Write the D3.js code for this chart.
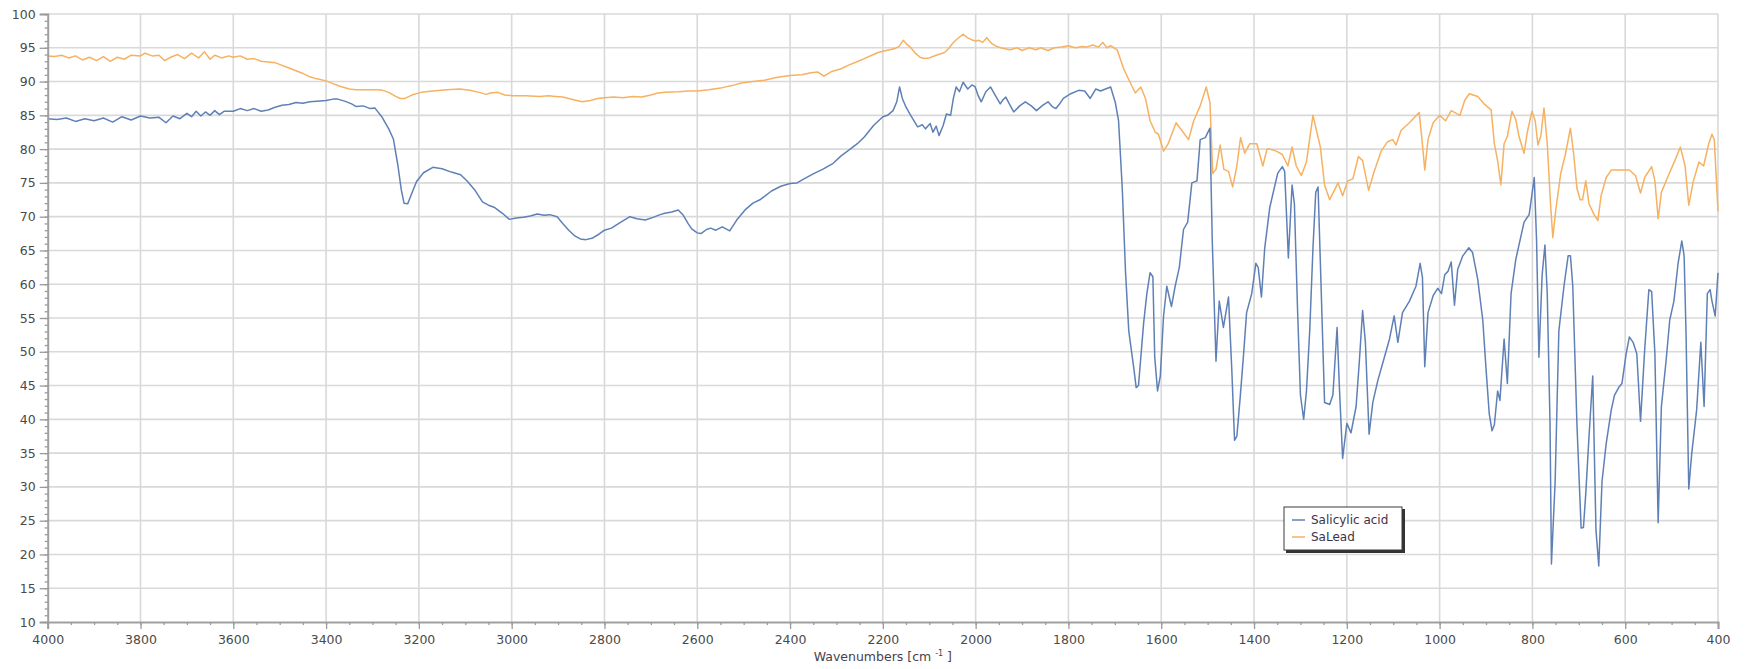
<!DOCTYPE html>
<html>
<head>
<meta charset="utf-8">
<script src="https://cdn.jsdelivr.net/npm/d3@7"></script>
<style>
  html, body { margin: 0; padding: 0; background: #fff; }
  svg { display: block; }
  text { font-family: "DejaVu Sans", Verdana, sans-serif; }
</style>
</head>
<body>
<svg id="chart" width="1747" height="669"></svg>
<script>
// FT-IR transmittance spectra (%T vs wavenumber)
const seriesNames = ["Salicylic acid", "SaLead"];

const acidWavenumbers = [
  4000, 3980, 3960, 3940, 3920, 3900, 3880, 3860, 3840, 3820, 3800, 3780, 3760, 3745, 3730, 3715,
  3700, 3690, 3680, 3670, 3660, 3650, 3640, 3630, 3620, 3600, 3585, 3570, 3555, 3540, 3525, 3510,
  3495, 3480, 3465, 3450, 3435, 3420, 3400, 3385, 3375, 3360, 3345, 3335, 3320, 3305, 3295, 3280,
  3265, 3255, 3245, 3238, 3232, 3224, 3215, 3205, 3190, 3170, 3150, 3130, 3110, 3095, 3080, 3063,
  3050, 3038, 3020, 3005, 2990, 2975, 2960, 2945, 2930, 2918, 2902, 2890, 2877, 2865, 2852, 2840,
  2827, 2812, 2800, 2785, 2769, 2755, 2745, 2730, 2712, 2695, 2680, 2670, 2655, 2641, 2630, 2620,
  2612, 2600, 2592, 2580, 2571, 2560, 2546, 2538, 2530, 2515, 2497, 2480, 2465, 2455, 2440, 2420,
  2400, 2385, 2370, 2348, 2330, 2307, 2290, 2274, 2255, 2240, 2220, 2200, 2190, 2178, 2170, 2164,
  2158, 2150, 2140, 2125, 2115, 2108, 2098, 2092, 2085, 2079, 2070, 2063, 2054, 2048, 2042, 2035,
  2027, 2017, 2008, 2001, 1995, 1988, 1978, 1968, 1958, 1947, 1941, 1935, 1926, 1918, 1905, 1893,
  1880, 1869, 1855, 1844, 1835, 1827, 1818, 1811, 1795, 1778, 1765, 1753, 1741, 1731, 1720, 1709,
  1699, 1692, 1684, 1677, 1670, 1659, 1654, 1649, 1638, 1631, 1624, 1618, 1614, 1608, 1602, 1595,
  1588, 1578, 1570, 1561, 1552, 1543, 1534, 1523, 1516, 1505, 1495, 1490, 1482, 1475, 1466, 1455,
  1448, 1442, 1437, 1430, 1423, 1416, 1405, 1396, 1391, 1384, 1377, 1366, 1349, 1339, 1334, 1326,
  1318, 1313, 1306, 1300, 1293, 1287, 1280, 1273, 1267, 1262, 1255, 1248, 1237, 1230, 1221, 1216,
  1209, 1200, 1191, 1180, 1173, 1166, 1160, 1152, 1144, 1133, 1119, 1108, 1098, 1090, 1080, 1065,
  1051, 1042, 1037, 1032, 1025, 1014, 1004, 996, 989, 982, 975, 968, 961, 950, 937, 929,
  918, 907, 900, 893, 887, 882, 875, 870, 861, 854, 846, 836, 829, 818, 807, 796,
  791, 786, 779, 773, 768, 762, 759, 751, 743, 732, 723, 718, 713, 704, 695, 690,
  685, 678, 670, 663, 657, 650, 641, 630, 623, 614, 607, 598, 591, 583, 575, 567,
  558, 549, 543, 536, 529, 522, 512, 504, 495, 486, 478, 473, 469, 463, 457, 446,
  437, 430, 423, 417, 413, 406, 400
];
const acidTransmittance = [
  84.5, 84.4, 84.6, 84.1, 84.5, 84.2, 84.6, 84.0, 84.8, 84.3, 84.9, 84.6, 84.7, 83.9, 84.9, 84.5,
  85.3, 84.8, 85.6, 84.9, 85.5, 85.0, 85.7, 85.1, 85.6, 85.6, 86.0, 85.7, 86.0, 85.6, 85.8, 86.2,
  86.5, 86.6, 86.9, 86.8, 87.0, 87.1, 87.2, 87.4, 87.4, 87.1, 86.7, 86.3, 86.4, 86.0, 86.1, 84.8,
  83.0, 81.5, 77.5, 74.0, 72.0, 71.9, 73.5, 75.2, 76.5, 77.3, 77.1, 76.6, 76.2, 75.2, 74.0, 72.2,
  71.7, 71.4, 70.5, 69.6, 69.8, 69.9, 70.1, 70.4, 70.2, 70.3, 70.0, 69.0, 68.0, 67.2, 66.7, 66.6,
  66.8, 67.4, 68.0, 68.3, 69.0, 69.6, 70.0, 69.7, 69.5, 69.9, 70.3, 70.5, 70.7, 71.0, 70.2, 69.0,
  68.2, 67.6, 67.5, 68.1, 68.3, 68.0, 68.5, 68.2, 67.9, 69.5, 71.0, 72.0, 72.5, 73.0, 73.8, 74.5,
  74.9, 75.0, 75.6, 76.4, 77.0, 77.9, 79.0, 79.8, 80.8, 81.8, 83.5, 84.8, 85.0, 85.7, 87.0, 89.2,
  87.5, 86.2, 85.0, 83.3, 83.6, 83.0, 83.8, 82.5, 83.4, 82.0, 83.5, 85.2, 85.0, 87.5, 89.2, 88.5,
  89.9, 88.9, 89.5, 89.2, 88.0, 87.0, 88.5, 89.2, 88.0, 86.7, 87.3, 87.7, 86.5, 85.5, 86.4, 87.0,
  86.4, 85.7, 86.5, 87.0, 86.3, 86.0, 86.8, 87.5, 88.2, 88.7, 88.6, 87.5, 88.9, 88.6, 88.9, 89.2,
  86.9, 84.2, 74.2, 61.9, 53.1, 47.5, 44.7, 45.0, 54.2, 58.6, 61.7, 61.1, 49.2, 44.2, 46.4, 55.3,
  59.7, 56.7, 59.7, 62.5, 68.1, 69.2, 75.0, 75.3, 81.4, 81.7, 83.1, 66.4, 48.6, 57.5, 53.6, 58.1,
  47.5, 36.9, 37.5, 43.1, 49.2, 55.8, 58.6, 63.1, 62.5, 58.1, 65.3, 71.4, 76.4, 77.4, 76.7, 63.9,
  74.7, 71.9, 55.8, 43.6, 40.0, 44.2, 53.1, 65.3, 73.6, 74.4, 58.6, 42.5, 42.2, 43.6, 53.6, 44.7,
  34.2, 39.4, 38.0, 41.9, 48.6, 56.1, 51.4, 37.8, 42.5, 45.8, 49.2, 51.9, 55.3, 51.4, 55.8, 57.5,
  59.7, 63.1, 61.0, 47.8, 55.8, 58.3, 59.4, 58.6, 61.4, 61.9, 63.3, 56.9, 62.2, 64.2, 65.4, 64.7,
  60.8, 54.7, 47.5, 40.8, 38.3, 39.2, 44.2, 42.8, 51.9, 45.3, 58.6, 63.6, 65.8, 69.2, 70.3, 75.8,
  66.4, 49.2, 61.4, 65.8, 58.6, 39.2, 18.6, 30.8, 53.1, 59.7, 64.2, 64.2, 59.7, 39.2, 23.9, 24.0,
  29.0, 37.5, 46.4, 23.6, 18.3, 30.8, 36.4, 41.4, 43.6, 44.7, 45.3, 49.7, 52.2, 51.4, 49.7, 39.7,
  50.3, 59.2, 58.9, 49.7, 24.7, 41.9, 48.6, 54.7, 57.5, 63.1, 66.4, 64.2, 53.1, 29.7, 34.7, 41.4,
  51.4, 41.9, 58.6, 59.2, 57.5, 55.3, 61.7
];

const leadWavenumbers = [
  4000, 3985, 3970, 3955, 3940, 3925, 3910, 3895, 3880, 3865, 3850, 3835, 3820, 3800, 3790, 3775,
  3760, 3748, 3735, 3720, 3705, 3690, 3675, 3662, 3650, 3640, 3625, 3610, 3600, 3585, 3570, 3555,
  3540, 3525, 3510, 3495, 3480, 3465, 3450, 3435, 3420, 3400, 3385, 3370, 3350, 3335, 3310, 3290,
  3278, 3265, 3250, 3240, 3230, 3215, 3195, 3170, 3140, 3112, 3090, 3070, 3055, 3046, 3030, 3015,
  2997, 2970, 2940, 2920, 2906, 2890, 2877, 2860, 2848, 2830, 2815, 2800, 2780, 2760, 2740, 2720,
  2700, 2685, 2670, 2640, 2620, 2600, 2575, 2546, 2525, 2505, 2480, 2455, 2430, 2400, 2375, 2355,
  2340, 2327, 2310, 2290, 2275, 2257, 2240, 2224, 2210, 2200, 2185, 2174, 2165, 2156, 2148, 2141,
  2130, 2120, 2110, 2100, 2085, 2067, 2058, 2049, 2040, 2027, 2018, 2009, 2000, 1993, 1985, 1976,
  1965, 1955, 1940, 1926, 1910, 1900, 1885, 1870, 1860, 1844, 1830, 1815, 1800, 1785, 1770, 1761,
  1748, 1735, 1726, 1717, 1709, 1695, 1681, 1670, 1656, 1644, 1634, 1624, 1613, 1606, 1595, 1585,
  1568, 1556, 1541, 1530, 1516, 1503, 1495, 1489, 1482, 1473, 1465, 1455, 1446, 1437, 1429, 1420,
  1409, 1394, 1381, 1372, 1366, 1352, 1339, 1327, 1318, 1309, 1298, 1287, 1273, 1257, 1248, 1237,
  1229, 1219, 1209, 1198, 1187, 1175, 1166, 1153, 1141, 1126, 1112, 1101, 1094, 1083, 1065, 1054,
  1044, 1038, 1032, 1025, 1014, 1000, 987, 975, 964, 956, 946, 936, 918, 904, 889, 882,
  875, 868, 861, 854, 844, 836, 829, 818, 811, 801, 794, 788, 782, 775, 768, 761,
  756, 750, 739, 729, 718, 711, 704, 697, 692, 685, 678, 667, 659, 652, 641, 630,
  612, 591, 578, 567, 558, 543, 536, 529, 522, 507, 493, 481, 471, 463, 453, 441,
  431, 420, 413, 408, 400
];
const leadTransmittance = [
  93.8, 93.7, 93.9, 93.5, 93.8, 93.2, 93.6, 93.1, 93.7, 93.0, 93.6, 93.3, 93.9, 93.8, 94.2, 93.8,
  93.9, 93.1, 93.6, 94.0, 93.4, 94.2, 93.5, 94.4, 93.3, 93.9, 93.5, 93.8, 93.6, 93.8, 93.3, 93.4,
  93.0, 92.9, 92.8, 92.4, 92.0, 91.6, 91.2, 90.7, 90.4, 90.1, 89.7, 89.3, 88.9, 88.8, 88.8, 88.8,
  88.7, 88.4, 87.8, 87.5, 87.5, 88.0, 88.4, 88.6, 88.8, 88.9, 88.7, 88.4, 88.1, 88.3, 88.4, 88.0,
  87.9, 87.9, 87.8, 87.9, 87.8, 87.7, 87.5, 87.2, 87.0, 87.2, 87.5, 87.6, 87.7, 87.6, 87.8, 87.7,
  88.0, 88.3, 88.4, 88.5, 88.6, 88.6, 88.8, 89.1, 89.4, 89.8, 90.0, 90.2, 90.6, 90.9, 91.0, 91.3,
  91.4, 90.8, 91.5, 91.9, 92.4, 92.9, 93.4, 93.9, 94.3, 94.5, 94.7, 94.9, 95.2, 96.1, 95.5, 95.1,
  94.2, 93.6, 93.4, 93.5, 93.9, 94.3, 94.9, 95.7, 96.3, 97.0, 96.5, 96.2, 96.0, 96.1, 95.8, 96.5,
  95.6, 95.2, 94.9, 94.7, 95.0, 94.6, 95.0, 94.7, 95.0, 94.6, 95.0, 95.1, 95.3, 95.0, 95.2, 95.1,
  95.4, 95.1, 95.8, 95.0, 95.3, 94.7, 91.9, 90.3, 88.3, 89.2, 87.5, 84.2, 82.5, 82.2, 79.7, 80.8,
  83.9, 82.8, 81.4, 84.2, 86.4, 89.2, 86.9, 76.4, 77.0, 80.6, 77.0, 76.7, 74.4, 77.5, 81.7, 79.4,
  80.8, 80.8, 77.5, 80.0, 80.0, 79.7, 79.2, 77.5, 80.3, 77.5, 76.1, 78.1, 85.0, 80.3, 74.7, 72.5,
  73.6, 75.0, 73.1, 75.3, 75.6, 78.9, 78.3, 73.9, 76.7, 79.7, 81.1, 81.4, 80.6, 82.8, 83.9, 84.7,
  85.4, 81.4, 76.9, 81.4, 83.9, 85.0, 84.2, 85.7, 85.3, 85.0, 87.2, 88.2, 87.8, 86.7, 85.8, 80.8,
  78.3, 74.7, 80.8, 81.9, 85.6, 84.4, 81.9, 79.4, 82.5, 85.6, 84.2, 80.6, 81.9, 86.1, 80.8, 71.9,
  66.9, 70.8, 76.4, 79.2, 83.1, 79.2, 74.2, 72.5, 72.5, 75.3, 71.9, 70.3, 69.4, 73.1, 75.8, 76.9,
  76.9, 76.9, 76.1, 73.5, 75.8, 77.4, 75.3, 69.7, 73.6, 76.1, 78.3, 80.3, 77.5, 71.7, 75.3, 78.1,
  77.5, 80.8, 82.2, 81.4, 70.8
];

const seriesColors = ["#5f80b6", "#f6b161"];

// axis ticks
const xMajorTicks = [4000, 3800, 3600, 3400, 3200, 3000, 2800, 2600, 2400, 2200, 2000, 1800, 1600, 1400, 1200, 1000, 800, 600, 400];
const yMajorTicks = [10, 15, 20, 25, 30, 35, 40, 45, 50, 55, 60, 65, 70, 75, 80, 85, 90, 95, 100];

const svg = d3.select("#chart");
const plotLeft = 47.7, plotRight = 1718, plotTop = 14, plotBottom = 622;

const x = d3.scaleLinear().domain([4000, 400]).range([plotLeft, plotRight]);
const y = d3.scaleLinear().domain([10, 100]).range([plotBottom, plotTop]);

// grid
const grid = svg.append("g").attr("stroke", "#d9d9d9").attr("stroke-width", 1.6);
grid.selectAll("line.v").data(xMajorTicks.filter(d => d !== 4000)).join("line").attr("class", "v")
  .attr("x1", d => x(d)).attr("x2", d => x(d)).attr("y1", plotTop).attr("y2", plotBottom);
grid.selectAll("line.h").data(yMajorTicks.filter(d => d !== 10)).join("line").attr("class", "h")
  .attr("x1", plotLeft).attr("x2", plotRight).attr("y1", d => y(d)).attr("y2", d => y(d));

// spectra
const line = d3.line().x(d => x(d[0])).y(d => y(d[1]));
const acid = acidWavenumbers.map((w, i) => [w, acidTransmittance[i]]);
const lead = leadWavenumbers.map((w, i) => [w, leadTransmittance[i]]);
svg.append("path").datum(lead).attr("d", line).attr("fill", "none")
  .attr("stroke", seriesColors[1]).attr("stroke-width", 1.5).attr("stroke-linejoin", "round");
svg.append("path").datum(acid).attr("d", line).attr("fill", "none")
  .attr("stroke", seriesColors[0]).attr("stroke-width", 1.5).attr("stroke-linejoin", "round");

// y axis
svg.append("g").attr("transform", `translate(${plotLeft},0)`)
  .call(d3.axisLeft(y).tickValues(yMajorTicks).tickSize(8).tickPadding(4).tickFormat(d3.format("d")));
svg.append("g").attr("transform", `translate(${plotLeft},0)`)
  .call(d3.axisLeft(y).tickValues(d3.range(10, 101, 1)).tickSize(3).tickFormat(""))
  .call(g => g.select(".domain").remove());

// x axis
svg.append("g").attr("transform", `translate(0,${plotBottom})`)
  .call(d3.axisBottom(x).tickValues(xMajorTicks).tickSize(7).tickPadding(6).tickFormat(d3.format("d")));
svg.append("g").attr("transform", `translate(0,${plotBottom})`)
  .call(d3.axisBottom(x).tickValues(d3.range(400, 4001, 50)).tickSize(3).tickFormat(""))
  .call(g => g.select(".domain").remove());

svg.selectAll(".domain").attr("stroke", "#a0a0a0").attr("stroke-width", 2);
svg.selectAll(".tick line").attr("stroke", "#9a9a9a").attr("stroke-width", 1.3);
svg.selectAll(".tick text").attr("fill", "#4a4a4a").style("font-size", "12.5px")
  .style("font-family", "'DejaVu Sans', Verdana, sans-serif");

// x axis title
const title = svg.append("text").attr("x", (plotLeft + plotRight) / 2).attr("y", 661)
  .attr("text-anchor", "middle").attr("fill", "#4a4050").style("font-size", "12.5px");
title.append("tspan").text("Wavenumbers [cm ");
title.append("tspan").attr("dy", -5).style("font-size", "8px").text("-1");
title.append("tspan").attr("dy", 5).text(" ]");

// legend
const lg = svg.append("g").attr("transform", "translate(1284,507)");
lg.append("rect").attr("x", 2).attr("y", 2).attr("width", 119).attr("height", 44).attr("fill", "#333");
lg.append("rect").attr("x", 0).attr("y", 0).attr("width", 118).attr("height", 43)
  .attr("fill", "#fff").attr("stroke", "#3a3a3a").attr("stroke-width", 1);
seriesNames.forEach((name, i) => {
  const cy = 13 + i * 17;
  lg.append("line").attr("x1", 8).attr("x2", 21).attr("y1", cy).attr("y2", cy)
    .attr("stroke", seriesColors[i]).attr("stroke-width", 1.5);
  lg.append("text").attr("x", 27).attr("y", cy + 4).attr("fill", "#3c3446")
    .style("font-size", "12px").text(name);
});
</script>
</body>
</html>
